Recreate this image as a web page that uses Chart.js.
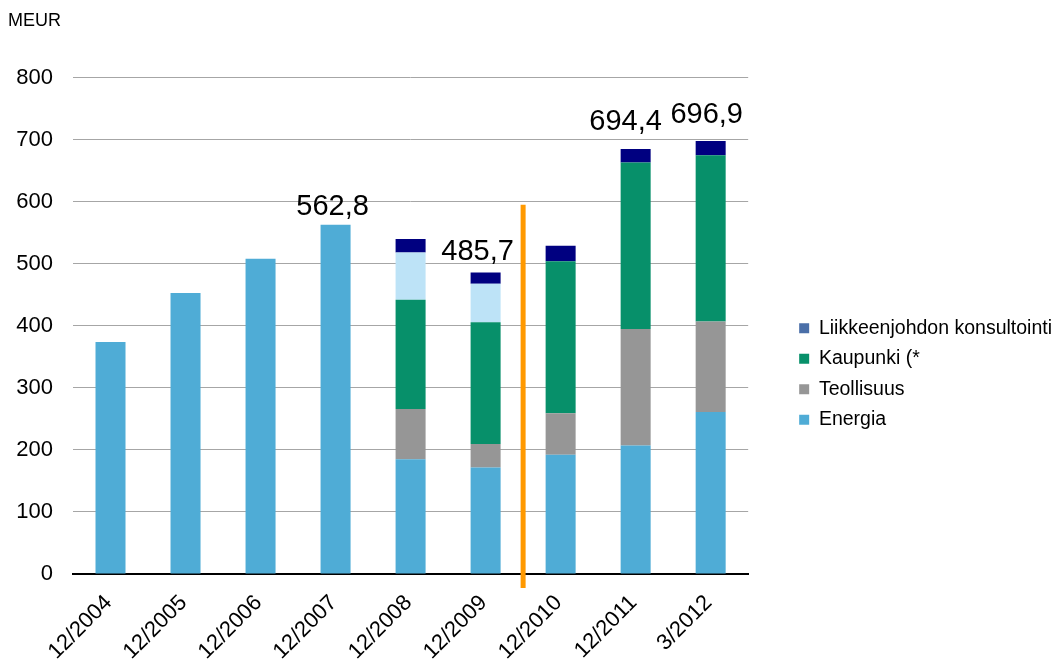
<!DOCTYPE html>
<html>
<head>
<meta charset="utf-8">
<script src="https://cdn.jsdelivr.net/npm/chart.js@4.4.1/dist/chart.umd.min.js"></script>
<style>
html, body { margin: 0; padding: 0; background: #fff; }
#wrap { width: 1062px; height: 661px; }
</style>
</head>
<body>
<div id="wrap"><canvas id="liikevaihto"></canvas></div>
<script>
const kaudet = ["12/2004", "12/2005", "12/2006", "12/2007", "12/2008", "12/2009", "12/2010", "12/2011", "3/2012"];
const energia = [374, 453, 508, 562.8, 185, 171.7, 192, 207, 261];
const teollisuus = [null, null, null, null, 81, 38, 67, 188, 146];
const kaupunki = [null, null, null, null, 176, 196, 245, 268, 268];
const muut = [null, null, null, null, 76, 62, null, null, null];
const konsultointi = [null, null, null, null, 22, 18, 25, 22, 23];
const summat = ["", "", "", "562,8", "", "485,7", "", "694,4", "696,9"];
const yTicks = [0, 100, 200, 300, 400, 500, 600, 700, 800];

Chart.defaults.font.family = '"Liberation Sans", Arial, sans-serif';
Chart.defaults.color = '#000';

// orange line between 12/2009 and 12/2010
const jakoviiva = {
    id: 'jakoviiva',
    afterDatasetsDraw(chart) {
        const {ctx, scales: {x, y}} = chart;
        const xp = (x.getPixelForValue(5) + x.getPixelForValue(6)) / 2;
        ctx.save();
        ctx.strokeStyle = '#ff9900';
        ctx.lineWidth = 5;
        ctx.beginPath();
        ctx.moveTo(xp, y.getPixelForValue(595));
        ctx.lineTo(xp, y.bottom + 14);
        ctx.stroke();
        ctx.restore();
    }
};

// totals above some bars
const summaTekstit = {
    id: 'summaTekstit',
    afterDatasetsDraw(chart, args, opts) {
        const {ctx, scales: {x, y}} = chart;
        ctx.save();
        ctx.font = '29px "Liberation Sans", Arial, sans-serif';
        ctx.fillStyle = '#000';
        ctx.textAlign = 'center';
        ctx.textBaseline = 'alphabetic';
        summat.forEach((t, i) => {
            if (!t) return;
            let top = 0;
            chart.data.datasets.forEach(ds => { top += ds.data[i] || 0; });
            const [dx, dy] = opts.siirrot[i] || [0, -12];
            ctx.fillText(t, x.getPixelForValue(i) + dx, y.getPixelForValue(top) + dy);
        });
        ctx.restore();
    }
};

new Chart(document.getElementById("liikevaihto"), {
    type: 'bar',
    data: {
        labels: kaudet,
        datasets: [
            { label: "Energia", data: energia, backgroundColor: "#4facd6" },
            { label: "Teollisuus", data: teollisuus, backgroundColor: "#969696" },
            { label: "Kaupunki (*", data: kaupunki, backgroundColor: "#07906a" },
            { label: "", data: muut, backgroundColor: "#bde3f7" },
            { label: "Liikkeenjohdon konsultointi", data: konsultointi, backgroundColor: "#000080", legendVari: "#4a6fa8" }
        ]
    },
    options: {
        responsive: true,
        maintainAspectRatio: false,
        animation: false,
        layout: { padding: { left: 8, right: 0, top: 0, bottom: 0 } },
        datasets: {
            bar: { barPercentage: 0.4, categoryPercentage: 1 }
        },
        scales: {
            x: {
                stacked: true,
                grid: { display: false, drawTicks: false },
                border: { display: true, color: '#000', width: 2 },
                ticks: { font: { size: 22 }, minRotation: 45, maxRotation: 45, padding: 16, labelOffset: -2 },
                afterFit(s) { s.height = 87; }
            },
            y: {
                stacked: true,
                min: 0,
                max: 800,
                grid: { color: '#a6a6a6', lineWidth: 1, drawTicks: false },
                border: { display: false },
                afterBuildTicks(s) { s.ticks = yTicks.map(v => ({ value: v })); },
                ticks: { font: { size: 22 }, padding: 20 },
                afterFit(s) { s.width = 65; }
            },
            oikea: {
                type: 'linear',
                position: 'right',
                display: true,
                grid: { display: false, drawTicks: false },
                border: { display: false },
                ticks: { display: false },
                afterFit(s) { s.width = 40; }
            }
        },
        plugins: {
            title: {
                display: true,
                text: 'MEUR',
                align: 'start',
                font: { size: 18, weight: 'normal' },
                padding: { top: 10, bottom: 46 }
            },
            legend: {
                position: 'right',
                reverse: true,
                maxWidth: 290,
                title: { display: true, text: ' ', font: { size: 1 }, padding: { top: 86, bottom: 0 } },
                labels: {
                    boxWidth: 10,
                    boxHeight: 10,
                    padding: 11,
                    font: { size: 19.5 },
                    filter: item => item.text !== '',
                    generateLabels(chart) {
                        const items = Chart.defaults.plugins.legend.labels.generateLabels(chart);
                        items.forEach(it => {
                            const ds = chart.data.datasets[it.datasetIndex];
                            if (ds.legendVari) it.fillStyle = ds.legendVari;
                            it.lineWidth = 0;
                        });
                        return items;
                    }
                }
            },
            summaTekstit: {
                siirrot: { 3: [-3, -10], 5: [-8, -13], 7: [-10, -19], 8: [-4, -18] }
            },
            tooltip: { enabled: false }
        }
    },
    plugins: [jakoviiva, summaTekstit]
});
</script>
</body>
</html>
